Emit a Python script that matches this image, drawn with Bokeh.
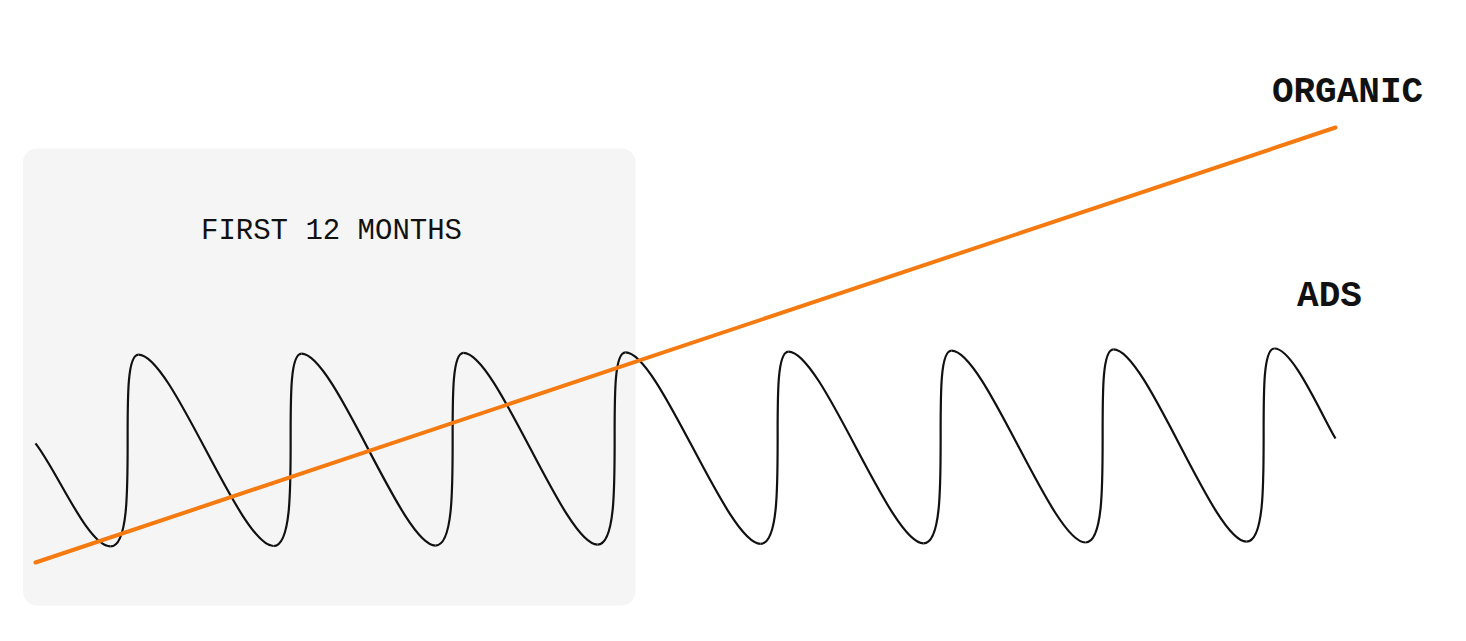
from bokeh.plotting import figure
from bokeh.models import Range1d
from bokeh.core.properties import value
from bokeh.embed import file_html
from bokeh.resources import INLINE

# ---- data (months on x, index value on y) ----
organic_month = [0.0, 26.0]
organic_value = [0.0, 100.0]

ads_start = (0.0, 27.4)
ads_end = (26.0, 28.5)
trough_month = [1.50, 4.76, 8.00, 11.24, 14.50, 17.76, 21.00, 24.22]
trough_value = [3.7, 3.8, 3.9, 4.1, 4.3, 4.4, 4.6, 4.8]
peak_month = [2.06, 5.32, 8.56, 11.80, 15.06, 18.32, 21.56, 24.78]
peak_value = [47.8, 48.0, 48.2, 48.3, 48.5, 48.7, 49.0, 49.2]

first_period = (-0.25, 12.0)   # highlighted "first 12 months" span
band_value = (-9.9, 95.2)

labels = ["ORGANIC", "ADS"]
label_month = [26.24, 25.88]
label_value = [108.0, 61.2]
band_label = "FIRST 12 MONTHS"
band_label_pos = (5.92, 76.1)

ORANGE = "#f57a10"
INK = "#111111"

p = figure(width=1450, height=625,
           x_range=Range1d(-0.70, 28.30), y_range=Range1d(-14.48, 129.2),
           output_backend="svg", toolbar_location=None,
           x_axis_type=None, y_axis_type=None, min_border=0)
p.outline_line_color = None
p.grid.visible = False
p.background_fill_color = "white"
p.border_fill_color = "white"

# highlighted band
p.quad(left=[first_period[0]], right=[first_period[1]],
       bottom=[band_value[0]], top=[band_value[1]],
       fill_color="#f5f5f5", line_color=None, border_radius=14)

# ads curve as smooth bezier segments through key points
x0s, y0s, x1s, y1s, cx0, cy0, cx1, cy1 = [], [], [], [], [], [], [], []

def seg(a, b, c0, c1):
    x0s.append(a[0]); y0s.append(a[1]); x1s.append(b[0]); y1s.append(b[1])
    cx0.append(c0[0]); cy0.append(c0[1]); cx1.append(c1[0]); cy1.append(c1[1])

n = len(trough_month)
# lead-in
a = ads_start; b = (trough_month[0], trough_value[0])
dx, dy = b[0] - a[0], b[1] - a[1]
seg(a, b, (a[0] + 0.3 * dx, a[1] + 0.28 * dy), (b[0] - 0.3 * dx, b[1]))
for k in range(n):
    t = (trough_month[k], trough_value[k])
    pk = (peak_month[k], peak_value[k])
    dx = pk[0] - t[0]
    seg(t, pk, (t[0] + 1.15 * dx, t[1]), (pk[0] - 0.85 * dx, pk[1]))
    if k + 1 < n:
        t2 = (trough_month[k + 1], trough_value[k + 1])
        dx = t2[0] - pk[0]
        seg(pk, t2, (pk[0] + 0.25 * dx, pk[1]), (t2[0] - 0.25 * dx, t2[1]))
# tail
a = (peak_month[-1], peak_value[-1]); b = ads_end
dx, dy = b[0] - a[0], b[1] - a[1]
seg(a, b, (a[0] + 0.3 * dx, a[1]), (b[0] - 0.25 * dx, b[1] - 0.29 * dy))

p.bezier(x0=x0s, y0=y0s, x1=x1s, y1=y1s, cx0=cx0, cy0=cy0, cx1=cx1, cy1=cy1,
         line_color=INK, line_width=2.2)

# organic line
p.line(organic_month, organic_value, line_color=ORANGE, line_width=4,
       line_cap="round")

# texts
p.text(x=[band_label_pos[0]], y=[band_label_pos[1]], text=[band_label],
       text_font=value("Liberation Mono"), text_font_size="29px",
       text_align="center", text_baseline="middle", text_color=INK)
p.text(x=label_month, y=label_value, text=labels,
       text_font=value("Liberation Mono"), text_font_size="36px",
       text_font_style="bold",
       text_align="center", text_baseline="middle", text_color=INK)

open("out.html", "w").write(file_html(p, INLINE))
